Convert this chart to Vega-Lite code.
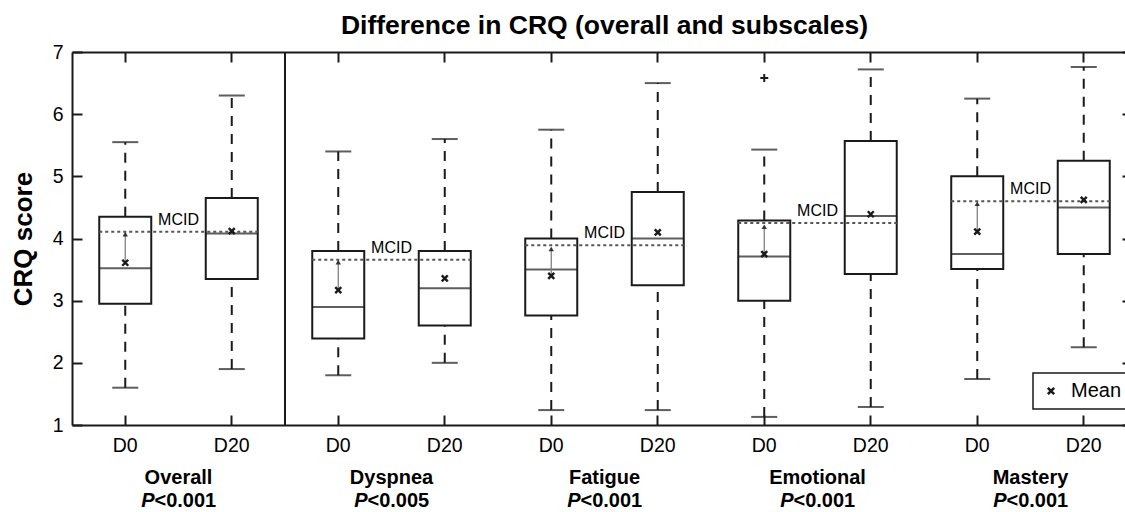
{
  "$schema": "https://vega.github.io/schema/vega-lite/v6.json",
  "width": 1053,
  "height": 373,
  "autosize": {"type": "none"},
  "padding": {"left": 72, "top": 52, "right": 0, "bottom": 87},
  "background": "white",
  "title": {"text": "Difference in CRQ (overall and subscales)", "fontSize": 26.5, "fontWeight": "bold", "font": "Liberation Sans", "color": "black", "anchor": "middle", "offset": 3, "dx": 6},
  "config": {"view": {"stroke": null}, "font": "Liberation Sans", "axis": {"grid": false}, "legend": {"strokeWidth": 1.5}},
  "datasets": {
    "boxes": [
      {"key": "Overall-D0", "group": "Overall", "time": "D0", "lo": 1.6, "q1": 2.95, "med": 3.52, "q3": 4.35, "hi": 5.55, "mean": 3.61, "arrow": 4.07, "outlier": null},
      {"key": "Overall-D20", "group": "Overall", "time": "D20", "lo": 1.9, "q1": 3.35, "med": 4.08, "q3": 4.65, "hi": 6.3, "mean": 4.12, "arrow": null, "outlier": null},
      {"key": "Dyspnea-D0", "group": "Dyspnea", "time": "D0", "lo": 1.8, "q1": 2.39, "med": 2.9, "q3": 3.8, "hi": 5.4, "mean": 3.17, "arrow": 3.62, "outlier": null},
      {"key": "Dyspnea-D20", "group": "Dyspnea", "time": "D20", "lo": 2.0, "q1": 2.6, "med": 3.2, "q3": 3.8, "hi": 5.6, "mean": 3.36, "arrow": null, "outlier": null},
      {"key": "Fatigue-D0", "group": "Fatigue", "time": "D0", "lo": 1.24, "q1": 2.76, "med": 3.5, "q3": 4.0, "hi": 5.75, "mean": 3.4, "arrow": 3.83, "outlier": null},
      {"key": "Fatigue-D20", "group": "Fatigue", "time": "D20", "lo": 1.24, "q1": 3.25, "med": 4.0, "q3": 4.75, "hi": 6.5, "mean": 4.1, "arrow": null, "outlier": null},
      {"key": "Emotional-D0", "group": "Emotional", "time": "D0", "lo": 1.13, "q1": 3.0, "med": 3.71, "q3": 4.29, "hi": 5.43, "mean": 3.75, "arrow": 4.19, "outlier": 6.58},
      {"key": "Emotional-D20", "group": "Emotional", "time": "D20", "lo": 1.29, "q1": 3.43, "med": 4.36, "q3": 5.57, "hi": 6.72, "mean": 4.39, "arrow": null, "outlier": null},
      {"key": "Mastery-D0", "group": "Mastery", "time": "D0", "lo": 1.74, "q1": 3.51, "med": 3.75, "q3": 5.0, "hi": 6.25, "mean": 4.11, "arrow": 4.56, "outlier": null},
      {"key": "Mastery-D20", "group": "Mastery", "time": "D20", "lo": 2.25, "q1": 3.75, "med": 4.5, "q3": 5.25, "hi": 6.76, "mean": 4.62, "arrow": null, "outlier": null}
    ],
    "groups": [
      {"group": "Overall", "d0": "Overall-D0", "d20": "Overall-D20", "mcid": 4.11, "p": "<0.001"},
      {"group": "Dyspnea", "d0": "Dyspnea-D0", "d20": "Dyspnea-D20", "mcid": 3.66, "p": "<0.005"},
      {"group": "Fatigue", "d0": "Fatigue-D0", "d20": "Fatigue-D20", "mcid": 3.89, "p": "<0.001"},
      {"group": "Emotional", "d0": "Emotional-D0", "d20": "Emotional-D20", "mcid": 4.25, "p": "<0.001"},
      {"group": "Mastery", "d0": "Mastery-D0", "d20": "Mastery-D20", "mcid": 4.6, "p": "<0.001"}
    ]
  },
  "layer": [
    {
      "data": {"name": "boxes"},
      "mark": {"type": "rule", "strokeDash": [10, 8], "strokeWidth": 2, "color": "#1a1a1a"},
      "encoding": {
        "x": {"field": "key", "type": "nominal",
          "scale": {"domain": ["Overall-D0", "Overall-D20", "Dyspnea-D0", "Dyspnea-D20", "Fatigue-D0", "Fatigue-D20", "Emotional-D0", "Emotional-D20", "Mastery-D0", "Mastery-D20"], "range": [0, 1065], "paddingInner": 0.5117, "paddingOuter": 0.2559},
          "axis": {"orient": "bottom", "title": null, "labelExpr": "slice(datum.value, indexof(datum.value, '-') + 1)", "labelFontSize": 19.5, "labelColor": "black", "labelAngle": 0, "tickSize": -10, "tickWidth": 2, "tickColor": "#1a1a1a", "domainColor": "#1a1a1a", "domainWidth": 2, "labelPadding": 21}},
        "y": {"field": "lo", "type": "quantitative",
          "scale": {"domain": [1, 7], "nice": false, "zero": false},
          "axis": {"orient": "left", "values": [1, 2, 3, 4, 5, 6, 7], "format": "d", "tickSize": -10, "tickWidth": 2, "tickColor": "#1a1a1a", "domainColor": "#1a1a1a", "domainWidth": 2, "labelPadding": 19, "labelFontSize": 19.5, "labelColor": "black", "title": "CRQ score", "titleFontSize": 26, "titleFontWeight": "bold", "titleColor": "black", "titlePadding": 16}},
        "y2": {"field": "q1"}
      }
    },
    {
      "data": {"name": "boxes"},
      "mark": {"type": "rule", "strokeDash": [10, 8], "strokeWidth": 2, "color": "#1a1a1a"},
      "encoding": {
        "x": {"field": "key", "type": "nominal",
          "axis": {"orient": "top", "title": null, "labels": false, "tickSize": -10, "tickWidth": 2, "tickColor": "#1a1a1a", "domainColor": "#1a1a1a", "domainWidth": 2}},
        "y": {"field": "q3", "type": "quantitative",
          "axis": {"orient": "right", "title": null, "labels": false, "domain": false, "values": [1, 2, 3, 4, 5, 6, 7], "tickSize": 10, "offset": -3, "tickWidth": 2, "tickColor": "#1a1a1a"}},
        "y2": {"field": "hi"}
      }
    },
    {
      "data": {"name": "boxes"},
      "mark": {"type": "tick", "size": 26, "thickness": 2, "color": "#1a1a1a"},
      "encoding": {
        "x": {"field": "key", "type": "nominal", "axis": null},
        "y": {"field": "lo", "type": "quantitative", "axis": null}
      }
    },
    {
      "data": {"name": "boxes"},
      "mark": {"type": "tick", "size": 26, "thickness": 2, "color": "#1a1a1a"},
      "encoding": {
        "x": {"field": "key", "type": "nominal", "axis": null},
        "y": {"field": "hi", "type": "quantitative", "axis": null}
      }
    },
    {
      "data": {"name": "boxes"},
      "mark": {"type": "bar", "fill": "white", "stroke": "#1a1a1a", "strokeWidth": 2},
      "encoding": {
        "x": {"field": "key", "type": "nominal", "axis": null},
        "y": {"field": "q1", "type": "quantitative", "axis": null},
        "y2": {"field": "q3"}
      }
    },
    {
      "data": {"name": "boxes"},
      "mark": {"type": "tick", "size": 52, "thickness": 2, "color": "#1a1a1a"},
      "encoding": {
        "x": {"field": "key", "type": "nominal", "axis": null},
        "y": {"field": "med", "type": "quantitative", "axis": null}
      }
    },
    {
      "data": {"name": "groups"},
      "mark": {"type": "rule", "strokeDash": [3, 3], "strokeWidth": 2, "color": "#555555"},
      "encoding": {
        "x": {"field": "d0", "type": "nominal", "bandPosition": 0, "axis": null},
        "x2": {"field": "d20", "bandPosition": 1},
        "y": {"field": "mcid", "type": "quantitative", "axis": null}
      }
    },
    {
      "data": {"name": "boxes"},
      "transform": [{"filter": "isValid(datum.arrow)"}],
      "mark": {"type": "rule", "strokeWidth": 1.2, "color": "#777777"},
      "encoding": {
        "x": {"field": "key", "type": "nominal", "axis": null},
        "y": {"field": "mean", "type": "quantitative", "axis": null},
        "y2": {"field": "arrow"}
      }
    },
    {
      "data": {"name": "boxes"},
      "transform": [{"filter": "isValid(datum.arrow)"}],
      "mark": {"type": "point", "shape": "triangle-up", "filled": true, "size": 28, "color": "#333333", "opacity": 1},
      "encoding": {
        "x": {"field": "key", "type": "nominal", "axis": null},
        "y": {"field": "arrow", "type": "quantitative", "axis": null}
      }
    },
    {
      "data": {"name": "boxes"},
      "mark": {"type": "point", "filled": false, "stroke": "#1a1a1a", "strokeWidth": 2.4, "size": 36, "opacity": 1},
      "encoding": {
        "x": {"field": "key", "type": "nominal", "axis": null},
        "y": {"field": "mean", "type": "quantitative", "axis": null},
        "shape": {"datum": "Mean", "type": "nominal",
          "scale": {"range": ["M-1,-1L1,1M1,-1L-1,1"]},
          "legend": {"title": null, "orient": "none", "legendX": 961, "legendY": 321, "strokeColor": "#1a1a1a", "fillColor": "white", "padding": 8, "labelFontSize": 20, "labelColor": "black", "symbolSize": 40, "symbolStrokeWidth": 2.6, "symbolStrokeColor": "#1a1a1a", "symbolFillColor": "transparent", "labelOffset": 10}}
      }
    },
    {
      "data": {"name": "boxes"},
      "transform": [{"filter": "isValid(datum.outlier)"}],
      "mark": {"type": "point", "shape": "M-1,0L1,0M0,-1L0,1", "filled": false, "stroke": "#1a1a1a", "strokeWidth": 2, "size": 64, "opacity": 1},
      "encoding": {
        "x": {"field": "key", "type": "nominal", "axis": null},
        "y": {"field": "outlier", "type": "quantitative", "axis": null}
      }
    },
    {
      "data": {"values": [{"sep": "Overall-D20"}]},
      "mark": {"type": "rule", "strokeWidth": 2, "color": "#1a1a1a"},
      "encoding": {
        "x": {"field": "sep", "type": "nominal", "bandPosition": 1.524, "axis": null},
        "y": {"datum": 1, "type": "quantitative", "axis": null},
        "y2": {"datum": 7}
      }
    },
    {
      "data": {"name": "groups"},
      "mark": {"type": "text", "text": "MCID", "fontSize": 16, "color": "black", "baseline": "alphabetic", "align": "center", "dy": -7},
      "encoding": {
        "x": {"field": "d0", "type": "nominal", "bandPosition": 1.524, "axis": null},
        "y": {"field": "mcid", "type": "quantitative", "axis": null}
      }
    },
    {
      "data": {"name": "groups"},
      "mark": {"type": "text", "fontSize": 20, "fontWeight": "bold", "color": "black", "baseline": "alphabetic", "align": "center"},
      "encoding": {
        "x": {"field": "d0", "type": "nominal", "bandPosition": 1.524, "axis": null},
        "y": {"datum": 0.05, "type": "quantitative", "axis": null},
        "text": {"field": "group"}
      }
    },
    {
      "data": {"name": "groups"},
      "mark": {"type": "text", "text": "P", "fontSize": 20, "fontWeight": "bold", "fontStyle": "italic", "color": "black", "baseline": "alphabetic", "align": "right", "dx": -24},
      "encoding": {
        "x": {"field": "d0", "type": "nominal", "bandPosition": 1.524, "axis": null},
        "y": {"datum": -0.318, "type": "quantitative", "axis": null}
      }
    },
    {
      "data": {"name": "groups"},
      "mark": {"type": "text", "fontSize": 20, "fontWeight": "bold", "color": "black", "baseline": "alphabetic", "align": "left", "dx": -24},
      "encoding": {
        "x": {"field": "d0", "type": "nominal", "bandPosition": 1.524, "axis": null},
        "y": {"datum": -0.318, "type": "quantitative", "axis": null},
        "text": {"field": "p"}
      }
    }
  ],
  "resolve": {"axis": {"x": "independent", "y": "independent"}}
}
